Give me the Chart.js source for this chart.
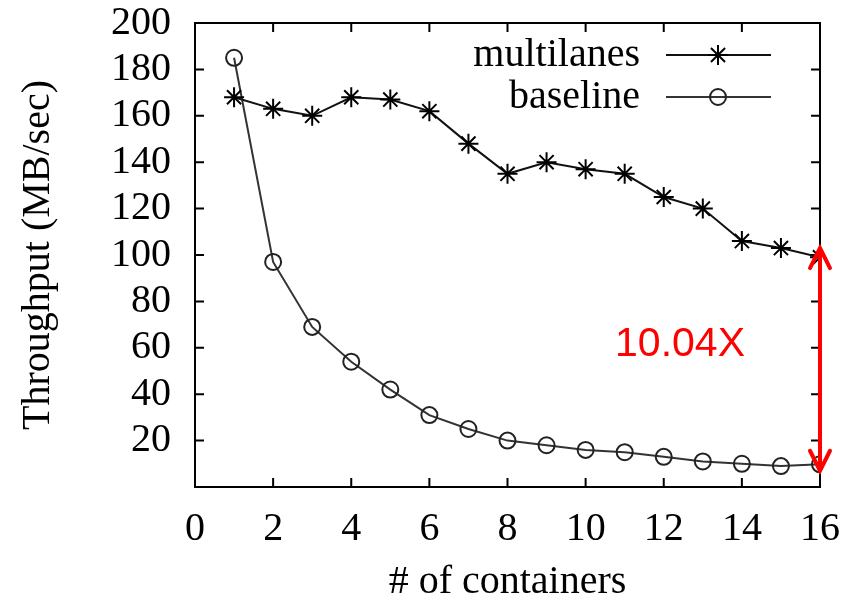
<!DOCTYPE html>
<html>
<head>
<meta charset="utf-8">
<script src="https://cdn.jsdelivr.net/npm/chart.js@4.4.0/dist/chart.umd.min.js"></script>
<style>
  html, body { margin: 0; padding: 0; background: #fff; }
  #wrap { width: 851px; height: 606px; }
</style>
</head>
<body>
<div id="wrap"><canvas id="myChart" width="851" height="606"></canvas></div>
<script>
// data
const containers = [1, 2, 3, 4, 5, 6, 7, 8, 9, 10, 11, 12, 13, 14, 15, 16];
const multilanes = [168, 163, 160, 168, 167, 162, 148, 135, 140, 137, 135, 125, 120, 106, 103, 99];
const baseline = [185, 97, 69, 54, 42, 31, 25, 20, 18, 16, 15, 13, 11, 10, 9, 9.8];
const xTickValues = [0, 2, 4, 6, 8, 10, 12, 14, 16];
const yTickValues = [20, 40, 60, 80, 100, 120, 140, 160, 180, 200];

// red annotation (speedup at 16 containers)
const speedupText = "10.04X";
const arrowAt = 16;
const arrowTop = 103;
const arrowBottom = 7;

const serif = "'Liberation Serif', 'Times New Roman', serif";

function toPoints(xs, ys) {
  return xs.map((x, i) => ({ x: x, y: ys[i] }));
}

// box around the plot with gnuplot style inward ticks
const framePlugin = {
  id: "frame",
  beforeDatasetsDraw(chart) {
    const { ctx, chartArea: a, scales } = chart;
    ctx.save();
    ctx.strokeStyle = "#000";
    ctx.lineWidth = 2;
    ctx.strokeRect(a.left, a.top, a.right - a.left, a.bottom - a.top);
    ctx.beginPath();
    xTickValues.forEach((v) => {
      if (v === 0 || v === 16) return;
      const px = scales.x.getPixelForValue(v);
      ctx.moveTo(px, a.bottom); ctx.lineTo(px, a.bottom - 9);
      ctx.moveTo(px, a.top); ctx.lineTo(px, a.top + 9);
    });
    yTickValues.forEach((v) => {
      if (v === 200) return;
      const py = scales.y.getPixelForValue(v);
      ctx.moveTo(a.left, py); ctx.lineTo(a.left + 9, py);
      ctx.moveTo(a.right, py); ctx.lineTo(a.right - 9, py);
    });
    ctx.stroke();
    ctx.restore();
  },
};

function drawMarker(ctx, style, radius, x, y) {
  if (Chart.helpers && Chart.helpers.drawPoint) {
    Chart.helpers.drawPoint(ctx, { pointStyle: style, radius: radius, rotation: 0, borderWidth: 2 }, x, y);
    return;
  }
  ctx.beginPath();
  ctx.arc(x, y, radius, 0, Math.PI * 2);
  ctx.stroke();
}

// legend in the top right corner, text right aligned, sample on the right
const legendPlugin = {
  id: "insideLegend",
  afterDatasetsDraw(chart) {
    const { ctx } = chart;
    const rows = [55, 97];
    ctx.save();
    chart.data.datasets.forEach((ds, i) => {
      const y = rows[i];
      ctx.font = "40px " + serif;
      ctx.fillStyle = "#000";
      ctx.textAlign = "right";
      ctx.textBaseline = "middle";
      ctx.fillText(ds.label, 640, y);
      ctx.strokeStyle = ds.borderColor;
      ctx.lineWidth = ds.borderWidth;
      ctx.beginPath();
      ctx.moveTo(666, y);
      ctx.lineTo(771, y);
      ctx.stroke();
      ctx.fillStyle = "rgba(0,0,0,0)";
      ctx.strokeStyle = ds.pointBorderColor;
      ctx.lineWidth = 2;
      drawMarker(ctx, ds.pointStyle, ds.pointRadius, 718, y);
    });
    ctx.restore();
  },
};

// red double arrow and the speedup text
const arrowPlugin = {
  id: "speedupArrow",
  afterDatasetsDraw(chart) {
    const { ctx, scales } = chart;
    const x = scales.x.getPixelForValue(arrowAt);
    const y1 = scales.y.getPixelForValue(arrowTop);
    const y2 = scales.y.getPixelForValue(arrowBottom);
    ctx.save();
    ctx.strokeStyle = "#ff0000";
    ctx.lineWidth = 4;
    ctx.beginPath();
    ctx.moveTo(x, y1 + 2);
    ctx.lineTo(x, y2 - 2);
    ctx.stroke();
    ctx.lineCap = "round";
    ctx.beginPath();
    ctx.moveTo(x - 10, y1 + 20); ctx.lineTo(x, y1); ctx.lineTo(x + 10, y1 + 20);
    ctx.moveTo(x - 10, y2 - 20); ctx.lineTo(x, y2); ctx.lineTo(x + 10, y2 - 20);
    ctx.stroke();
    ctx.fillStyle = "#ff0000";
    ctx.font = "41px 'Liberation Sans', Arial, sans-serif";
    ctx.textAlign = "center";
    ctx.textBaseline = "middle";
    ctx.fillText(speedupText, 680, 345);
    ctx.restore();
  },
};

const ctx = document.getElementById("myChart").getContext("2d");
const myChart = new Chart(ctx, {
  type: "line",
  data: {
    datasets: [
      {
        label: "multilanes",
        data: toPoints(containers, multilanes),
        borderColor: "#111",
        borderWidth: 2,
        pointStyle: "star",
        pointRadius: 10,
        pointBorderWidth: 2,
        pointBorderColor: "#000",
        pointBackgroundColor: "rgba(0,0,0,0)",
        tension: 0,
      },
      {
        label: "baseline",
        data: toPoints(containers, baseline),
        borderColor: "#333",
        borderWidth: 2,
        pointStyle: "circle",
        pointRadius: 8,
        pointBorderWidth: 2,
        pointBorderColor: "#222",
        pointBackgroundColor: "rgba(0,0,0,0)",
        tension: 0,
      },
    ],
  },
  options: {
    responsive: false,
    animation: false,
    devicePixelRatio: 1,
    layout: { padding: { top: 23, right: 31, left: 0, bottom: 0 } },
    plugins: {
      legend: { display: false },
      tooltip: { enabled: false },
    },
    scales: {
      x: {
        type: "linear",
        min: 0,
        max: 16,
        afterBuildTicks: (scale) => {
          scale.ticks = xTickValues.map((v) => ({ value: v }));
        },
        afterFit: (scale) => {
          scale.height = 119;
          scale.paddingLeft = 0;
          scale.paddingRight = 0;
        },
        ticks: {
          color: "#000",
          font: { family: serif, size: 40 },
          padding: 18,
          maxRotation: 0,
          autoSkip: false,
        },
        grid: { display: false, drawTicks: false },
        border: { display: false },
        title: {
          display: true,
          text: "# of containers",
          color: "#000",
          font: { family: serif, size: 40 },
          padding: { top: 0, bottom: 0 },
        },
      },
      y: {
        min: 0,
        max: 200,
        afterBuildTicks: (scale) => {
          scale.ticks = yTickValues.map((v) => ({ value: v }));
        },
        afterFit: (scale) => {
          scale.width = 195;
          scale.paddingTop = 0;
          scale.paddingBottom = 0;
        },
        ticks: {
          color: "#000",
          font: { family: serif, size: 40 },
          padding: 24,
          autoSkip: false,
        },
        grid: { display: false, drawTicks: false },
        border: { display: false },
        title: {
          display: true,
          text: "Throughput (MB/sec)",
          color: "#000",
          font: { family: serif, size: 40 },
          padding: { top: 14, bottom: 0 },
        },
      },
    },
  },
  plugins: [framePlugin, legendPlugin, arrowPlugin],
});
</script>
</body>
</html>
